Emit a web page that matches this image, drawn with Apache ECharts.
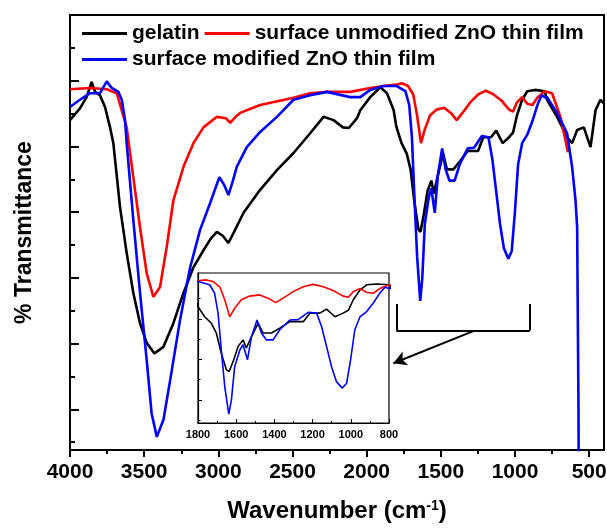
<!DOCTYPE html>
<html>
<head>
<meta charset="utf-8">
<script src="https://cdn.jsdelivr.net/npm/echarts@6/dist/echarts.min.js"></script>
<style>
  html, body { margin: 0; padding: 0; background: #fff; }
  #chart { width: 607px; height: 529px; }
</style>
</head>
<body>
<div id="chart"></div>
<script>
// FTIR transmittance spectra: gelatin and ZnO thin films (with and without surface modification)
const FONT = '"Liberation Sans", Arial, Helvetica, sans-serif';

// axis ticks (wavenumber, cm-1) and transmittance tick positions (arbitrary units)
const majorTicks = [4000, 3500, 3000, 2500, 2000, 1500, 1000, 500];
const minorTicks = [3750, 3250, 2750, 2250, 1750, 1250, 750];
const yMajorTicks = [10, 20, 30, 40, 50, 60];
const yMinorTicks = [5, 15, 25, 35, 45, 55, 65];
const insetTicks = [1800, 1600, 1400, 1200, 1000, 800];
const insetMinorTicks = [1700, 1500, 1300, 1100, 900];
const insetYMajor = [30, 40, 50];
const insetYMinor = [25, 35, 45, 55];

const seriesNames = ['gelatin', 'surface unmodified ZnO thin film', 'surface modified ZnO thin film'];
const seriesColors = ['#000000', '#ff0000', '#0000ff'];

// [wavenumber, transmittance]
const gelatin = [
  [4000, 54.0], [3989, 54.3], [3933, 55.8], [3888, 57.5], [3854, 59.8], [3831, 58.3], [3798, 57.8],
  [3764, 56.0], [3730, 52.9], [3708, 50.5], [3685, 45.6], [3663, 40.8], [3618, 33.8], [3573, 27.7],
  [3528, 23.1], [3483, 20.1], [3431, 18.5], [3370, 19.5], [3303, 23.1], [3235, 27.7], [3168, 31.6],
  [3100, 34.2], [3050, 36.0], [3010, 37.0], [2970, 36.4], [2932, 35.3], [2898, 36.8], [2830, 39.9],
  [2718, 43.4], [2605, 46.4], [2493, 49.0], [2381, 52.0], [2291, 54.5], [2223, 54.0], [2160, 52.9],
  [2120, 52.8], [2065, 54.3], [2043, 55.5], [1976, 57.5], [1908, 59.0], [1863, 58.1], [1818, 55.5],
  [1800, 53.0], [1765, 50.5], [1730, 48.9], [1704, 46.5], [1678, 41.5], [1651, 37.4], [1637, 37.0],
  [1616, 39.5], [1590, 43.2], [1564, 44.8], [1547, 42.8], [1520, 45.6], [1485, 48.9], [1459, 46.5],
  [1415, 46.5], [1372, 47.7], [1319, 49.3], [1249, 49.3], [1214, 51.4], [1162, 51.4], [1127, 52.4],
  [1083, 50.5], [1040, 51.4], [1013, 52.1], [987, 54.7], [952, 57.1], [917, 58.4], [865, 58.6],
  [800, 58.4], [784, 57.1], [716, 54.5], [649, 51.4], [615, 50.5], [581, 52.5], [536, 52.9],
  [491, 49.9], [457, 55.5], [424, 57.1], [400, 56.5]
];

const unmodifiedZnO = [
  [4000, 58.7], [3865, 58.9], [3752, 58.7], [3685, 58.1], [3651, 55.5], [3618, 52.9], [3573, 45.3],
  [3528, 37.7], [3483, 30.7], [3438, 27.1], [3393, 28.6], [3348, 34.7], [3303, 41.8], [3235, 46.9],
  [3168, 50.5], [3100, 52.9], [3010, 54.5], [2950, 54.3], [2920, 53.6], [2880, 54.6], [2853, 55.1],
  [2718, 56.3], [2493, 57.4], [2381, 58.1], [2268, 58.3], [2111, 58.3], [1976, 58.9], [1886, 59.2],
  [1800, 59.4], [1760, 59.6], [1721, 59.2], [1686, 57.9], [1660, 54.7], [1634, 50.5], [1608, 52.6],
  [1573, 54.7], [1529, 55.6], [1477, 55.9], [1433, 55.1], [1393, 54.0], [1354, 55.1], [1302, 56.7],
  [1249, 57.9], [1197, 58.5], [1144, 57.9], [1092, 57.0], [1040, 55.6], [1013, 55.3], [987, 56.7],
  [952, 57.5], [917, 56.5], [882, 56.3], [847, 57.5], [800, 58.4], [750, 58.1], [694, 54.5],
  [660, 51.0], [644, 49.1]
];

const modifiedZnO = [
  [4000, 56.0], [3933, 57.1], [3865, 58.1], [3798, 58.1], [3752, 59.9], [3719, 58.9], [3674, 58.3],
  [3651, 57.1], [3629, 54.0], [3618, 50.5], [3573, 38.8], [3528, 27.7], [3483, 17.5], [3450, 9.4],
  [3415, 5.8], [3370, 8.4], [3325, 14.4], [3258, 23.6], [3190, 31.6], [3123, 37.3], [3055, 41.4],
  [2993, 45.3], [2960, 44.1], [2932, 42.6], [2900, 44.9], [2876, 46.9], [2808, 49.9], [2718, 52.2],
  [2605, 54.5], [2493, 57.1], [2381, 57.8], [2268, 58.3], [2111, 57.5], [2043, 57.5], [1976, 58.6],
  [1886, 59.2], [1800, 59.2], [1739, 58.4], [1713, 56.3], [1695, 51.4], [1678, 42.3], [1660, 33.3],
  [1639, 26.5], [1625, 30.0], [1608, 38.2], [1581, 42.3], [1564, 43.6], [1541, 39.9], [1520, 45.6],
  [1491, 49.7], [1468, 46.5], [1442, 44.8], [1407, 44.8], [1372, 47.3], [1319, 49.7], [1276, 49.8],
  [1223, 51.6], [1179, 51.4], [1153, 48.1], [1127, 43.2], [1101, 38.2], [1075, 34.5], [1045, 32.9],
  [1022, 34.1], [1001, 39.9], [979, 47.3], [952, 50.5], [917, 51.8], [882, 53.9], [847, 56.4],
  [821, 57.8], [800, 57.5], [784, 57.5], [716, 55.1], [649, 52.0], [615, 46.9], [592, 41.8],
  [581, 37.7], [572, 10.0], [566, -30.0]
];

const spectra = [gelatin, unmodifiedZnO, modifiedZnO];

// marked region 1800-900 cm-1 shown enlarged in the inset
const bracketRange = [1800, 900];
const bracketLevel = [26, 22];
const arrowFrom = [1281, 21.9];
const arrowTo = [1820, 17.0];

const chart = echarts.init(document.getElementById('chart'), null, { renderer: 'canvas' });

const boldText = (size) => ({ fontFamily: FONT, fontWeight: 'bold', fontSize: size, color: '#000' });
const plainNumber = (v) => String(v);

const mainSeries = spectra.map((d, i) => ({
  name: seriesNames[i],
  type: 'line',
  xAxisIndex: 0,
  yAxisIndex: 0,
  data: d,
  showSymbol: false,
  symbol: 'none',
  clip: true,
  z: 2,
  itemStyle: { color: seriesColors[i] },
  lineStyle: { color: seriesColors[i], width: 2.6 }
}));

const insetSeries = spectra.map((d, i) => ({
  name: seriesNames[i],
  type: 'line',
  xAxisIndex: 2,
  yAxisIndex: 2,
  data: d,
  showSymbol: false,
  symbol: 'none',
  clip: true,
  z: 6,
  itemStyle: { color: seriesColors[i] },
  lineStyle: { color: seriesColors[i], width: 1.6 }
}));

const annotationSeries = [
  {
    name: 'bracket',
    type: 'line',
    xAxisIndex: 0,
    yAxisIndex: 0,
    data: [],
    z: 3,
    markLine: {
      silent: true,
      symbol: 'none',
      label: { show: false },
      lineStyle: { color: '#000', width: 2, type: 'solid' },
      data: [
        [{ coord: [bracketRange[0], bracketLevel[0]] }, { coord: [bracketRange[0], bracketLevel[1]] }],
        [{ coord: [bracketRange[0], bracketLevel[1]] }, { coord: [bracketRange[1], bracketLevel[1]] }],
        [{ coord: [bracketRange[1], bracketLevel[1]] }, { coord: [bracketRange[1], bracketLevel[0]] }]
      ]
    }
  },
  {
    name: 'arrow',
    type: 'line',
    xAxisIndex: 0,
    yAxisIndex: 0,
    data: [],
    z: 3,
    markLine: {
      silent: true,
      symbol: ['none', 'arrow'],
      symbolSize: [11, 13],
      label: { show: false },
      lineStyle: { color: '#000', width: 2, type: 'solid' },
      data: [[{ coord: arrowFrom }, { coord: arrowTo }]]
    }
  }
];

const option = {
  animation: false,
  backgroundColor: '#fff',
  legend: {
    data: seriesNames,
    left: 82,
    top: 23,
    width: 525,
    padding: 0,
    icon: 'rect',
    itemWidth: 45,
    itemHeight: 3,
    itemGap: 5,
    selectedMode: false,
    textStyle: boldText(21)
  },
  grid: [
    { left: 70, top: 15, right: 3, bottom: 79, show: true, borderColor: '#000', borderWidth: 2, z: 0,
      containLabel: false, outerBoundsMode: 'none' },
    { left: 198, top: 273, width: 191, height: 150, show: true, backgroundColor: '#fff',
      borderColor: '#000', borderWidth: 1.2, z: 4, containLabel: false, outerBoundsMode: 'none' }
  ],
  xAxis: [
    {
      gridIndex: 0, type: 'value', min: 400, max: 4000, inverse: true, position: 'bottom',
      axisLine: { lineStyle: { color: '#000', width: 2 } },
      axisTick: { customValues: majorTicks, length: 7, lineStyle: { color: '#000', width: 2 } },
      axisLabel: { customValues: majorTicks, margin: 12, formatter: plainNumber, ...boldText(21) },
      splitLine: { show: false },
      name: 'Wavenumber (cm{sup|-1})',
      nameLocation: 'middle',
      nameGap: 49,
      nameTextStyle: {
        ...boldText(24),
        rich: { sup: { fontFamily: FONT, fontWeight: 'bold', fontSize: 14, color: '#000', verticalAlign: 'top', lineHeight: 12 } }
      }
    },
    {
      gridIndex: 0, type: 'value', min: 400, max: 4000, inverse: true, position: 'bottom',
      axisLine: { show: false },
      axisTick: { customValues: minorTicks, length: 4, lineStyle: { color: '#000', width: 2 } },
      axisLabel: { show: false },
      splitLine: { show: false }
    },
    {
      gridIndex: 1, type: 'value', min: 800, max: 1800, inverse: true, position: 'bottom', z: 5,
      axisLine: { lineStyle: { color: '#000', width: 1.2 } },
      axisTick: { customValues: insetTicks, inside: true, length: 4, lineStyle: { color: '#000', width: 1 } },
      axisLabel: { customValues: insetTicks, margin: 6, formatter: plainNumber, ...boldText(11) },
      splitLine: { show: false }
    },
    {
      gridIndex: 1, type: 'value', min: 800, max: 1800, inverse: true, position: 'bottom', z: 5,
      axisLine: { show: false },
      axisTick: { customValues: insetMinorTicks, inside: true, length: 2, lineStyle: { color: '#000', width: 1 } },
      axisLabel: { show: false },
      splitLine: { show: false }
    }
  ],
  yAxis: [
    {
      gridIndex: 0, type: 'value', min: 3.8, max: 70, position: 'left',
      axisLine: { show: true, lineStyle: { color: '#000', width: 2 } },
      axisTick: { show: true, customValues: yMajorTicks, inside: true, length: 9, lineStyle: { color: '#000', width: 2 } },
      axisLabel: { show: false },
      splitLine: { show: false },
      name: '% Transmittance',
      nameLocation: 'middle',
      nameGap: 34,
      nameTextStyle: boldText(23)
    },
    {
      gridIndex: 0, type: 'value', min: 3.8, max: 70, position: 'left',
      axisLine: { show: false },
      axisTick: { show: true, customValues: yMinorTicks, inside: true, length: 5, lineStyle: { color: '#000', width: 2 } },
      axisLabel: { show: false },
      splitLine: { show: false }
    },
    {
      gridIndex: 1, type: 'value', min: 24.3, max: 61.3, position: 'left', z: 5,
      axisLine: { show: true, lineStyle: { color: '#000', width: 1.2 } },
      axisTick: { show: true, customValues: insetYMajor, inside: true, length: 4, lineStyle: { color: '#000', width: 1 } },
      axisLabel: { show: false },
      splitLine: { show: false }
    },
    {
      gridIndex: 1, type: 'value', min: 24.3, max: 61.3, position: 'left', z: 5,
      axisLine: { show: false },
      axisTick: { show: true, customValues: insetYMinor, inside: true, length: 2.5, lineStyle: { color: '#000', width: 1 } },
      axisLabel: { show: false },
      splitLine: { show: false }
    }
  ],
  series: [...mainSeries, ...annotationSeries, ...insetSeries]
};

chart.setOption(option);
</script>
</body>
</html>
